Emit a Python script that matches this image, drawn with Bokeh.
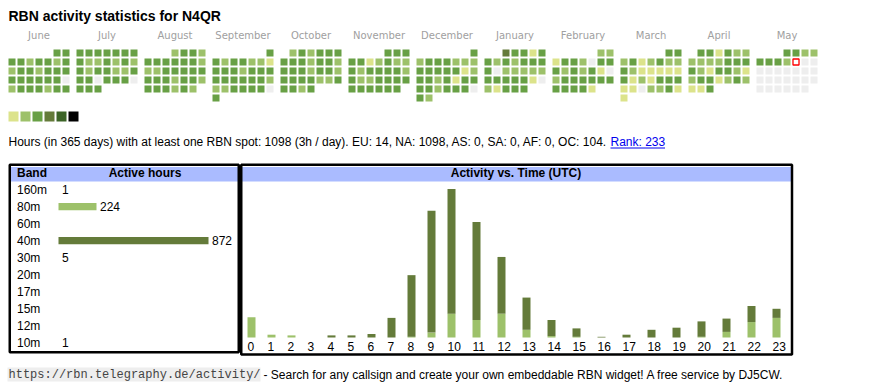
import datetime as dt
from bokeh.plotting import figure
from bokeh.models import Range1d, ColumnDataSource
from bokeh.core.properties import value
from bokeh.embed import file_html
from bokeh.resources import INLINE

# ---------------- data ----------------
callsign = "N4QR"
month_names = ["June", "July", "August", "September", "October", "November",
               "December", "January", "February", "March", "April", "May"]
month_starts = [(2024, 6), (2024, 7), (2024, 8), (2024, 9), (2024, 10), (2024, 11),
                (2024, 12), (2025, 1), (2025, 2), (2025, 3), (2025, 4), (2025, 5)]
today = dt.date(2025, 5, 9)

# daily activity level (0 = none, 1..6 = legend colours)
lv_jun = [3, 3, 3, 3, 2, 3, 3, 2, 3, 2, 3, 3, 2, 3, 3, 3, 3, 3, 3, 3, 3, 3, 0, 2, 3, 3, 3, 2, 3, 3]
lv_jul = [3, 3, 3, 3, 3, 3, 3, 3, 2, 2, 3, 2, 3, 2, 3, 2, 3, 3, 2, 2, 3, 3, 3, 0, 3, 3, 3, 0, 3, 3, 3]
lv_aug = [2, 3, 3, 2, 3, 3, 3, 3, 3, 3, 2, 2, 2, 3, 3, 3, 3, 3, 3, 3, 3, 2, 3, 3, 2, 3, 3, 3, 2, 3, 2]
lv_sep = [3, 3, 2, 3, 3, 2, 2, 1, 3, 3, 3, 2, 3, 3, 3, 3, 3, 3, 3, 3, 3, 2, 2, 2, 3, 3, 3, 3, 0, 3]
lv_oct = [2, 3, 2, 3, 3, 3, 3, 3, 3, 2, 3, 3, 2, 3, 3, 3, 2, 3, 3, 2, 3, 3, 3, 3, 2, 2, 3, 3, 3, 2, 3]
lv_nov = [3, 3, 3, 3, 3, 1, 2, 3, 2, 2, 3, 2, 3, 3, 3, 3, 2, 3, 2, 2, 3, 3, 3, 3, 3, 3, 3, 3, 3, 3]
lv_dec = [3, 2, 3, 3, 3, 2, 2, 2, 3, 3, 3, 3, 3, 1, 2, 3, 3, 2, 3, 1, 3, 3, 3, 3, 2, 3, 3, 3, 0, 3, 2]
lv_jan = [4, 3, 3, 1, 3, 3, 2, 3, 2, 3, 3, 3, 3, 0, 2, 2, 2, 2, 2, 3, 3, 3, 3, 3, 1, 0, 2, 1, 3, 3, 3]
lv_feb = [2, 2, 1, 3, 3, 2, 0, 3, 3, 3, 2, 3, 2, 3, 1, 0, 2, 3, 3, 3, 3, 3, 3, 3, 3, 3, 3, 1]
lv_mar = [3, 3, 2, 3, 1, 2, 3, 2, 2, 3, 2, 1, 1, 1, 1, 1, 3, 1, 2, 1, 3, 3, 3, 1, 1, 0, 2, 2, 3, 1, 1]
lv_apr = [3, 3, 1, 3, 2, 2, 2, 2, 2, 2, 3, 3, 3, 3, 2, 1, 3, 3, 2, 1, 2, 3, 3, 1, 2, 3, 2, 1, 1, 3]
lv_may = [3, 3, 2, 2, 3, 3, 3, 2]
month_levels = [lv_jun, lv_jul, lv_aug, lv_sep, lv_oct, lv_nov,
                lv_dec, lv_jan, lv_feb, lv_mar, lv_apr, lv_may]

level_colors = ["#eeeeee", "#dce38b", "#9dc16a", "#68a045", "#647b3a", "#3c6427", "#000000"]

total_hours = 1098
days = 365
per_day = 3
continents = ["EU", "NA", "AS", "SA", "AF", "OC"]
continent_hours = [14, 1098, 0, 0, 0, 104]
rank = 233

bands = ["160m", "80m", "60m", "40m", "30m", "20m", "17m", "15m", "12m", "10m"]
band_hours = [1, 224, 0, 872, 5, 0, 0, 0, 0, 1]
band_colors = ["#3c6427", "#9dc16a", "#dce38b", "#647b3a", "#68a045",
               "#68a045", "#68a045", "#68a045", "#68a045", "#68a045"]

utc_hours = list(range(24))
hours_80m = [29, 4, 3, 0, 0, 0, 0, 0, 1, 7, 34, 25, 34, 11, 2, 1, 0, 0, 0, 0, 1, 8, 22, 28]
hours_40m = [0, 0, 0, 0, 3, 3, 5, 28, 88, 174, 178, 140, 81, 46, 23, 12, 1, 4, 11, 14, 22, 19, 23, 13]

# ---------------- figure (page-pixel coordinates) ----------------
W, H = 854, 384
p = figure(width=W, height=H, x_range=Range1d(0, W), y_range=Range1d(H, 0),
           output_backend="svg", toolbar_location=None,
           x_axis_type=None, y_axis_type=None, min_border=0)
p.outline_line_color = None
p.background_fill_color = "white"
p.border_fill_color = "white"

SANS = value("Liberation Sans")
FS = value("12px")

# title
p.text(x=[8], y=[15.5], text=[f"RBN activity statistics for {callsign}"],
       text_font=SANS, text_font_size=value("14px"), text_font_style="bold",
       text_color="#000000", text_baseline="alphabetic", text_align="left")

# ---------------- calendar ----------------
CAL_X0, CAL_Y0, MONTH_PITCH, CELL_PITCH, CELL = 8, 49, 68, 9, 7
cl, cr, ct, cb, cc = [], [], [], [], []
today_cell = None
for m, (yr, mo) in enumerate(month_starts):
    first = dt.date(yr, mo, 1)
    nxt = dt.date(yr + (mo == 12), mo % 12 + 1, 1)
    ndays = (nxt - first).days
    off = first.weekday()
    lv = month_levels[m]
    for d in range(ndays):
        slot = off + d
        x0 = CAL_X0 + MONTH_PITCH * m + CELL_PITCH * (slot % 7)
        y0 = CAL_Y0 + CELL_PITCH * (slot // 7)
        level = lv[d] if d < len(lv) else 0
        cl.append(x0); cr.append(x0 + CELL); ct.append(y0); cb.append(y0 + CELL)
        cc.append(level_colors[level])
        if first + dt.timedelta(days=d) == today:
            today_cell = (x0, y0)
p.quad(left=cl, right=cr, top=ct, bottom=cb, fill_color=cc, line_color=None)
if today_cell:
    x0, y0 = today_cell
    p.quad(left=[x0 + 0.5], right=[x0 + CELL - 0.5], top=[y0 + 0.5], bottom=[y0 + CELL - 0.5],
           fill_color="#ffffff", line_color="#ff0000", line_width=1.3)

p.text(x=[CAL_X0 + MONTH_PITCH * m + 30.5 for m in range(12)], y=[35.3] * 12, text=month_names,
       text_font=value("DejaVu Sans"), text_font_size=value("10px"), text_color="#a0a0a0",
       text_align="center", text_baseline="alphabetic")

# legend
p.quad(left=[8 + 12 * i for i in range(6)], right=[18 + 12 * i for i in range(6)],
       top=[111] * 6, bottom=[121] * 6, fill_color=level_colors[1:], line_color=None)

# stats line
cont_txt = ", ".join(f"{c}: {h}" for c, h in zip(continents, continent_hours))
stats = (f"Hours (in {days} days) with at least one RBN spot: {total_hours} "
         f"({per_day}h / day). {cont_txt}.")
p.text(x=[8], y=[141.5], text=[stats], text_font=SANS, text_font_size=FS,
       text_color="#000000", text_baseline="alphabetic")
p.text(x=[610], y=[141.5], text=[f"Rank: {rank}"], text_font=SANS, text_font_size=FS,
       text_color="#0000ee", text_baseline="alphabetic")
p.segment(x0=[610], x1=[664.5], y0=[147.5], y1=[147.5], line_color="#0000ee", line_width=1)

# ---------------- boxes ----------------
p.quad(left=[10.5, 240.5], right=[237.5, 790.5], top=[166.5, 166.5], bottom=[181, 181],
       fill_color="#aabbff", line_color=None)
p.quad(left=[9.25, 240.75], right=[238.25, 791.5], top=[164.25, 164.25], bottom=[351.75, 354],
       fill_color=None, line_color="#000000", line_width=2.5)

HDR = dict(text_font=SANS, text_font_size=FS, text_font_style="bold",
           text_color="#000000", text_baseline="alphabetic")
p.text(x=[16.5], y=[172.8], text=["Band"], text_align="left", **HDR)
p.text(x=[144.5], y=[172.8], text=["Active hours"], text_align="center", **HDR)
p.text(x=[515.5], y=[172.8], text=["Activity vs. Time (UTC)"], text_align="center", **HDR)

# ---------------- band table ----------------
ROW0, ROWP = 189.2, 17
BAR_X0, BAR_MAXW = 58, 150
kb = BAR_MAXW / max(band_hours)
p.extra_x_ranges = {"band": Range1d((0 - BAR_X0) / kb, (W - BAR_X0) / kb)}
row_mid = [ROW0 + ROWP * i for i in range(len(bands))]
p.text(x=[16.5] * len(bands), y=row_mid, text=bands, text_font=SANS,
       text_font_size=FS, text_color="#000000", text_baseline="alphabetic")
bsrc = ColumnDataSource(dict(right=[int(h * kb) / kb for h in band_hours],
                             top=[c - 3.7 for c in row_mid], bottom=[c + 3.6 for c in row_mid],
                             color=band_colors))
p.quad(left=0, right="right", top="top", bottom="bottom", fill_color="color", line_color=None,
       source=bsrc, x_range_name="band")
nz = [i for i, h in enumerate(band_hours) if h > 0]
p.text(x=[int(band_hours[i] * kb) / kb for i in nz], y=[row_mid[i] for i in nz],
       text=[str(band_hours[i]) for i in nz], x_offset=3.5, x_range_name="band",
       text_font=SANS, text_font_size=FS, text_color="#000000",
       text_baseline="alphabetic")

# ---------------- activity vs time ----------------
BASE_Y, TOP_Y = 337, 188.5
totals = [a + b for a, b in zip(hours_80m, hours_40m)]
kh = (BASE_Y - TOP_Y) / max(totals)
p.extra_y_ranges = {"hours": Range1d((BASE_Y - H) / kh, BASE_Y / kh)}
lefts, x = [], 247
for h in utc_hours:
    lefts.append(x)
    x += 20 if h < 10 else 25
hsrc = ColumnDataSource(dict(x=[l + 4 for l in lefts], b80=[0] * 24, t80=hours_80m,
                             t40=totals))
p.vbar(x="x", width=8, bottom="b80", top="t80", source=hsrc, y_range_name="hours",
       fill_color="#9dc16a", line_color=None)
p.vbar(x="x", width=8, bottom="t80", top="t40", source=hsrc, y_range_name="hours",
       fill_color="#647b3a", line_color=None)
p.text(x=lefts, y=[345.8] * 24, text=[str(h) for h in utc_hours], text_font=SANS,
       text_font_size=FS, text_color="#000000", text_baseline="alphabetic")

# ---------------- footer ----------------
url = "https://rbn.telegraphy.de/activity/"
p.quad(left=[7], right=[260], top=[367], bottom=[381], fill_color="#eeeeee", line_color=None)
p.text(x=[8], y=[374], text=[url], text_font=value("Liberation Mono"), text_font_size=value("12px"),
       text_color="#444444", text_baseline="alphabetic")
p.text(x=[263], y=[374],
       text=["- Search for any callsign and create your own embeddable RBN widget! A free service by DJ5CW."],
       text_font=SANS, text_font_size=FS, text_color="#000000", text_baseline="alphabetic")

open("out.html", "w").write(file_html(p, INLINE))
